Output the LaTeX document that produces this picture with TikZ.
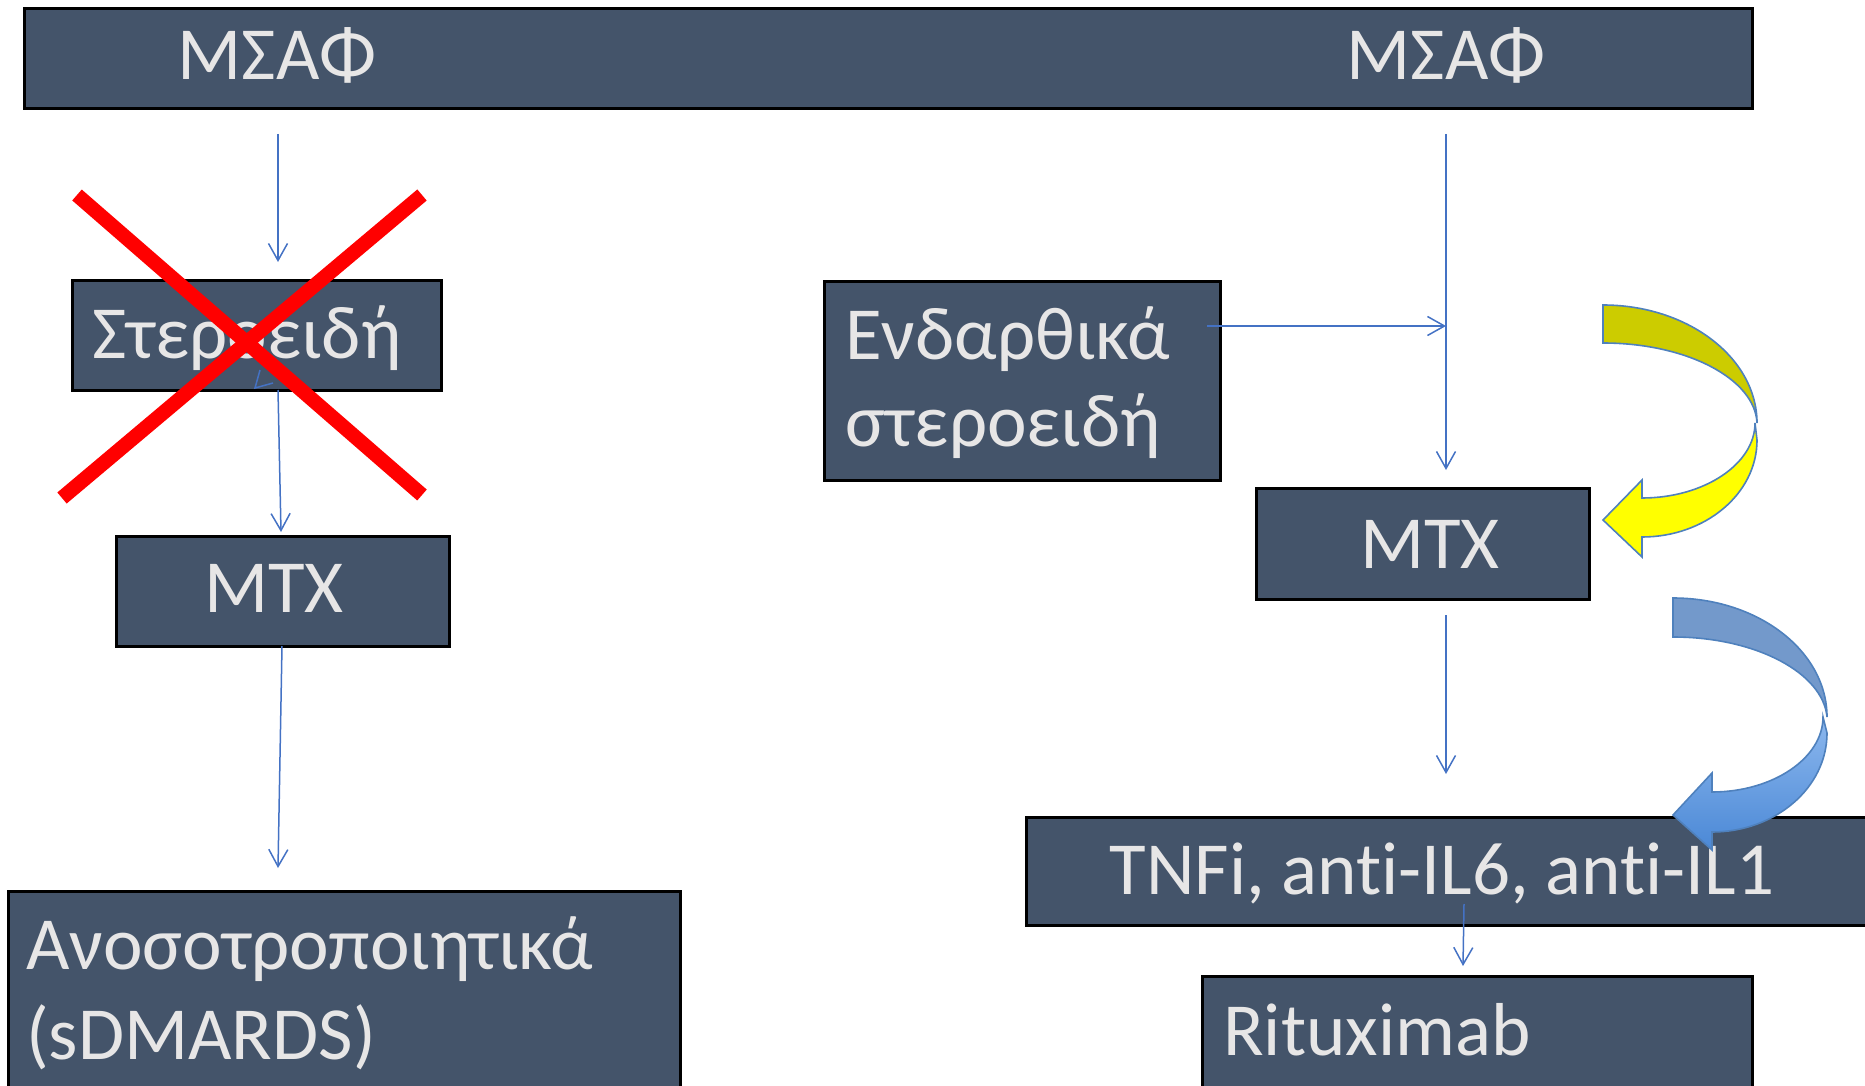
\documentclass[tikz,border=0pt]{standalone}
\usepackage{fontspec}
\setmainfont{Carlito}[Ligatures=NoCommon]
\usetikzlibrary{arrows.meta}
\definecolor{boxfill}{HTML}{44546A}
\definecolor{lbltext}{HTML}{E7E6E6}
\definecolor{connblue}{HTML}{4472C4}
\definecolor{outl}{HTML}{4F81BD}
\definecolor{yeldark}{HTML}{CCCC00}
\definecolor{yelbright}{HTML}{FFFF00}
\definecolor{bluedark}{HTML}{7399CB}
\definecolor{bluetop}{HTML}{8DB8EE}
\definecolor{bluebot}{HTML}{4A88D6}
\tikzset{
  box/.style={draw=black, line width=3pt, fill=boxfill, inner sep=0pt, anchor=north west},
  lbl/.style={text=lbltext, font=\fontsize{75}{90}\selectfont, inner sep=0pt},
  conn/.style={draw=connblue, line width=1.5pt, -{Straight Barb[length=17pt,width=19pt,line width=1.5pt]}},
  curvearrow/.style={draw=outl, line width=1.6pt, line join=miter}
}
\begin{document}
\begin{tikzpicture}[x=1pt,y=-1pt]
\useasboundingbox (0,0) rectangle (1865,1086);
\clip (0,0) rectangle (1865,1086);

% boxes
\node[box, minimum width=1728pt, minimum height=100pt] (top) at (23,7) {};
\node[box, minimum width=369pt, minimum height=110pt] (ster) at (71,279) {};
\node[box, minimum width=333pt, minimum height=110pt] (mtxl) at (115,535) {};
\node[box, minimum width=672pt, minimum height=220pt] (anoso) at (7,890) {};
\node[box, minimum width=396pt, minimum height=199pt] (endar) at (823,280) {};
\node[box, minimum width=333pt, minimum height=111pt] (mtxr) at (1255,487) {};
\node[box, minimum width=860pt, minimum height=108pt] (tnfi) at (1025,816) {};
\node[box, minimum width=550pt, minimum height=130pt] (ritux) at (1201,975) {};

% texts
\node[lbl, anchor=base] (t1) at (277,80) {ΜΣΑΦ};
\node[lbl, anchor=base] (t2) at (1446,80) {ΜΣΑΦ};
\node[lbl, anchor=base west] (t3) at (92,358) {Στεροειδή};
\node[lbl, anchor=base] (t4) at (274,612) {MTX};
\node[lbl, anchor=base west] (t5a) at (26,969) {Ανοσοτροποιητικά};
\node[lbl, anchor=base west] (t5b) at (26,1059) {(sDMARDS)};
\node[lbl, anchor=base west] (t6a) at (845,359) {Ενδαρθικά};
\node[lbl, anchor=base west] (t6b) at (845,446) {στεροειδή};
\node[lbl, anchor=base] (t7) at (1430,568) {MTX};
\node[lbl, anchor=base] (t8) at (1442,894) {TNFi, anti-IL6, anti-IL1};
\node[lbl, anchor=base west] (t9) at (1223,1055) {Rituximab};

% connector end points
\coordinate (a1s) at (278,134); \coordinate (a1e) at (278,262);
\coordinate (a2s) at (278,390); \coordinate (a2e) at (281,532);
\coordinate (a3s) at (282,646); \coordinate (a3e) at (278,868);
\coordinate (b1s) at (1446,134); \coordinate (b1e) at (1446,470);
\coordinate (hs) at (1207,326); \coordinate (he) at (1446,326);
\coordinate (b2s) at (1446,615); \coordinate (b2e) at (1446,774);
\coordinate (b3s) at (1464,904); \coordinate (b3e) at (1463,966);

\draw[conn] (a1s) -- (a1e);
\draw[conn] (a2s) -- (a2e);
\draw[conn] (a3s) -- (a3e);
\draw[conn] (b1s) -- (b1e);
\draw[conn] (hs) -- (he);
\draw[conn] (b2s) -- (b2e);
\draw[conn] (b3s) -- (b3e);
\draw[connblue, line width=1.5pt] (260,370) -- (255,388) -- (273,383);

% red cross
\draw[red, line width=14.5pt] (77,195) -- (422,495);
\draw[red, line width=14.5pt] (422,195) -- (62,498);

% yellow curved arrow
\path[curvearrow, fill=yeldark] (1603,305) .. controls (1688,305) and (1757,358) .. (1757,423)
  .. controls (1755,379) and (1687,343) .. (1603,343) -- cycle;
\path[curvearrow, fill=yelbright] (1755,423) .. controls (1755,464) and (1704,498) .. (1642,498)
  -- (1642,480) -- (1603,520) -- (1642,557) -- (1642,537)
  .. controls (1705,537) and (1757,494) .. (1757,440) -- cycle;

% blue curved arrow
\path[curvearrow, fill=bluedark] (1673,598) .. controls (1758,598) and (1827,651) .. (1827,717)
  .. controls (1823,673) and (1756,637) .. (1673,637) -- cycle;
\path[curvearrow, top color=bluetop, bottom color=bluebot] (1823,717) .. controls (1823,758) and (1773,792) .. (1712,792)
  -- (1712,773) -- (1673,815) -- (1712,850) -- (1712,832)
  .. controls (1775,832) and (1827,788) .. (1827,733) -- cycle;
\end{tikzpicture}
\end{document}
